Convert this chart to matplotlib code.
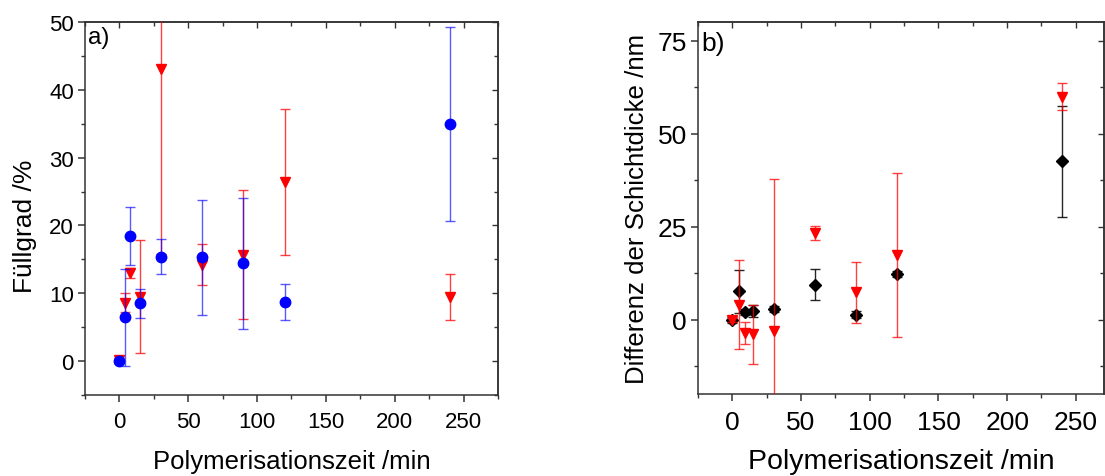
import numpy as np
import matplotlib
matplotlib.use("Agg")
import matplotlib.pyplot as plt
from matplotlib.ticker import MultipleLocator

plt.rcParams['font.family'] = ['Liberation Sans', 'DejaVu Sans']

# panel a) filling degree
t_a = [0, 4, 8, 15, 30, 60, 90, 120, 240]
fill_blue = [0.0, 6.45, 18.4, 8.5, 15.4, 15.3, 14.4, 8.7, 34.9]
fill_blue_err = [0.3, 7.1, 4.3, 2.2, 2.55, 8.5, 9.7, 2.6, 14.3]
fill_red = [0.2, 8.6, 13.0, 9.5, 43.1, 14.2, 15.7, 26.4, 9.4]
fill_red_err = [0.2, 1.4, 0.75, 8.3, 27.3, 3.0, 9.5, 10.7, 3.4]

# panel b) thickness difference
t_b = [0, 5, 9, 15, 30, 60, 90, 120, 240]
diff_black = [0.0, 7.6, 2.0, 2.2, 2.9, 9.4, 1.3, 12.3, 42.5]
diff_black_err = [0.8, 5.7, 0.8, 1.6, 0.8, 4.1, 1.0, 0.8, 14.8]
diff_red = [-0.2, 4.0, -3.6, -4.0, -3.1, 23.3, 7.3, 17.4, 59.9]
diff_red_err = [0.5, 11.9, 3.0, 7.9, 40.8, 1.8, 8.2, 22.0, 3.7]


def style_axes(ax, fs, xpad):
    for s in ax.spines.values():
        s.set_linewidth(1.1)
        s.set_color('#333333')
    ax.tick_params(which='major', direction='out', length=5, width=1.1,
                   labelsize=fs, color='#333333', pad=3)
    ax.tick_params(axis='x', which='major', pad=xpad)
    ax.tick_params(which='minor', direction='out', length=3, width=1.0,
                   color='#333333')
    # inward ticks on top and right
    top = ax.secondary_xaxis('top')
    top.xaxis.set_major_locator(MultipleLocator(50))
    top.xaxis.set_minor_locator(MultipleLocator(25))
    top.tick_params(which='both', direction='in', labeltop=False,
                    color='#333333', width=1.0)
    top.tick_params(which='major', length=4)
    top.tick_params(which='minor', length=3)
    top.spines['top'].set_linewidth(1.1)
    top.spines['top'].set_color('#333333')
    right = ax.secondary_yaxis('right')
    right.yaxis.set_major_locator(ax.yaxis.get_major_locator())
    right.yaxis.set_minor_locator(ax.yaxis.get_minor_locator())
    right.tick_params(which='both', direction='in', labelright=False,
                      color='#333333', width=1.0)
    right.tick_params(which='major', length=4)
    right.tick_params(which='minor', length=3)
    right.spines['right'].set_linewidth(1.1)
    right.spines['right'].set_color('#333333')


fig = plt.figure(figsize=(11.05, 4.77), dpi=100)

axa = fig.add_axes([0.0769, 0.1698, 0.3738, 0.782])
axa.errorbar(t_a, fill_red, yerr=fill_red_err, fmt='v', color='#ff0000',
             ecolor=(1, 0, 0, 0.75), elinewidth=1.0, capsize=3.5, capthick=1.0,
             markersize=7, zorder=3)
axa.errorbar(t_a, fill_blue, yerr=fill_blue_err, fmt='o', color='#0000ff',
             ecolor=(0, 0, 1, 0.65), elinewidth=1.0, capsize=3.5, capthick=1.0,
             markersize=7.5, zorder=4)
axa.set_xlim(-25, 275)
axa.set_ylim(-5, 50)
axa.xaxis.set_major_locator(MultipleLocator(50))
axa.xaxis.set_minor_locator(MultipleLocator(25))
axa.yaxis.set_major_locator(MultipleLocator(10))
axa.yaxis.set_minor_locator(MultipleLocator(5))
style_axes(axa, 16, 6.5)
axa.set_xlabel('Polymerisationszeit /min', fontsize=18.5, labelpad=12)
axa.set_ylabel('Füllgrad /%', fontsize=19)
axa.yaxis.set_label_coords(-0.116, 0.456)
axa.text(0.008, 0.99, 'a)', transform=axa.transAxes, fontsize=17.5,
         ha='left', va='top')

axb = fig.add_axes([0.6317, 0.1719, 0.3674, 0.780])
axb.errorbar(t_b, diff_black, yerr=diff_black_err, fmt='D', color='black',
             ecolor=(0, 0, 0, 0.85), elinewidth=1.0, capsize=3.5, capthick=1.0,
             markersize=6, zorder=3)
axb.errorbar(t_b, diff_red, yerr=diff_red_err, fmt='v', color='#ff0000',
             ecolor=(1, 0, 0, 0.75), elinewidth=1.0, capsize=3.5, capthick=1.0,
             markersize=7, zorder=4)
axb.set_xlim(-25, 270.5)
axb.set_ylim(-20, 80)
axb.xaxis.set_major_locator(MultipleLocator(50))
axb.xaxis.set_minor_locator(MultipleLocator(25))
axb.yaxis.set_major_locator(MultipleLocator(25))
axb.yaxis.set_minor_locator(MultipleLocator(12.5))
style_axes(axb, 19, 6.5)
axb.set_xlabel('Polymerisationszeit /min', fontsize=20.5, labelpad=10)
axb.set_ylabel('Differenz der Schichtdicke /nm', fontsize=18.6, labelpad=6)
axb.text(0.008, 0.975, 'b)', transform=axb.transAxes, fontsize=19,
         ha='left', va='top')

fig.savefig('out.png', dpi=100)
